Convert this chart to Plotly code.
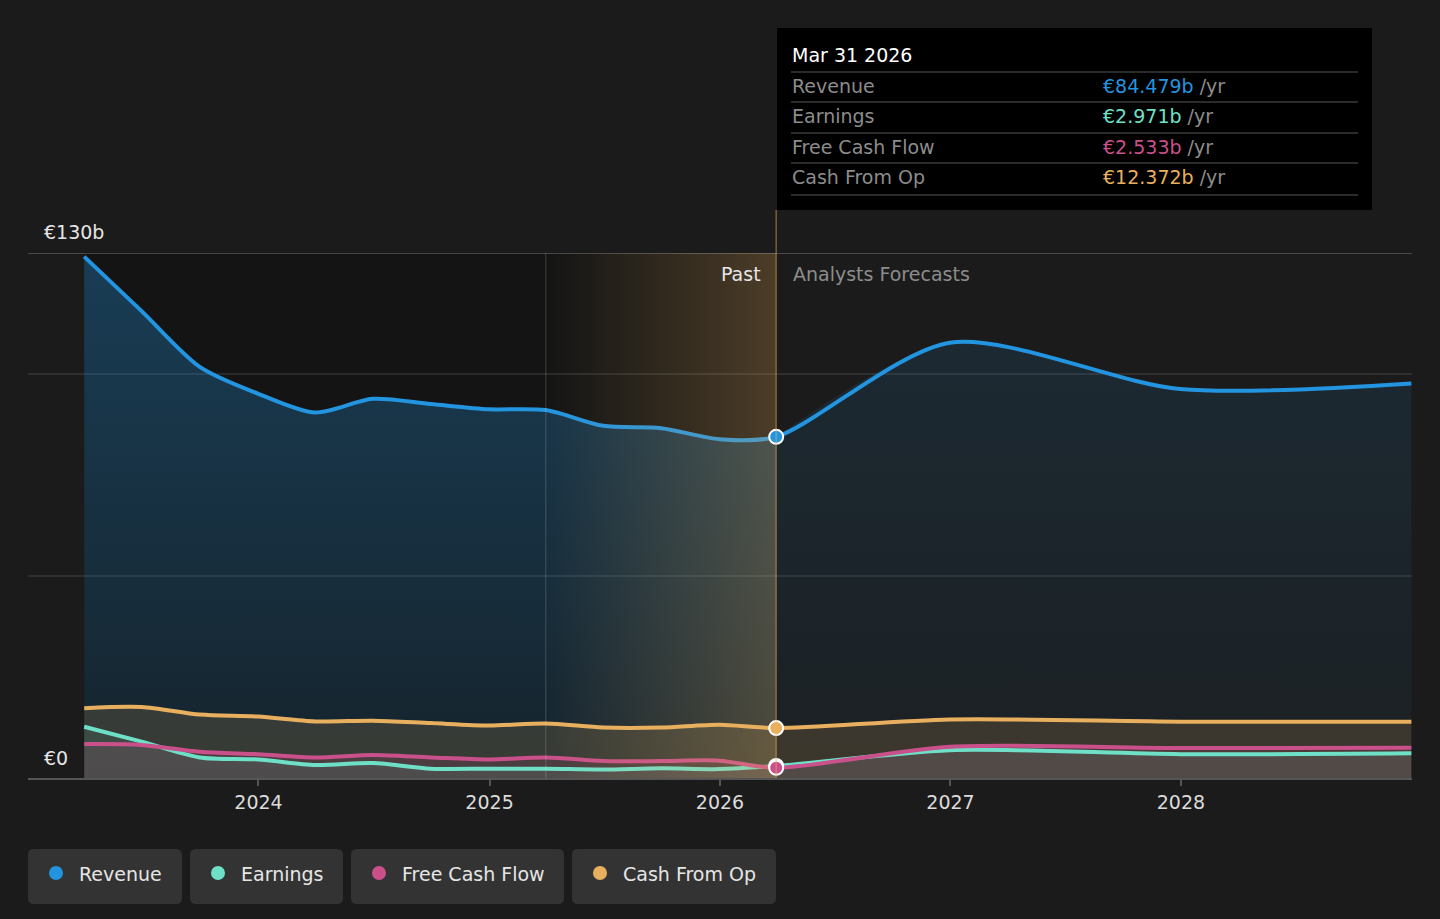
import plotly.graph_objects as go

# quarterly trailing values (billions EUR), then analyst forecasts
past_dates = ["2023-03-31", "2023-06-30", "2023-09-30", "2023-12-31",
              "2024-03-31", "2024-06-30", "2024-09-30", "2024-12-31",
              "2025-03-31", "2025-06-30", "2025-09-30", "2025-12-31",
              "2026-03-31"]
forecast_dates = ["2026-03-31", "2026-12-31", "2027-12-31", "2028-12-31"]

revenue_past = [129.1, 115.6, 101.8, 95.2, 90.5, 93.9, 92.6, 91.3, 91.1, 87.2, 86.6, 83.9, 84.479]
revenue_fc = [84.479, 107.8, 96.3, 97.7]
earnings_past = [12.7, 9.0, 5.1, 4.6, 3.2, 3.7, 2.3, 2.3, 2.3, 2.1, 2.4, 2.2, 2.971]
earnings_fc = [2.971, 6.9, 5.9, 6.1]
fcf_past = [8.4, 8.2, 6.5, 5.9, 5.1, 5.7, 5.1, 4.6, 5.1, 4.2, 4.2, 4.3, 2.533]
fcf_fc = [2.533, 7.75, 7.4, 7.5]
cfo_past = [17.3, 17.6, 15.7, 15.2, 14.0, 14.2, 13.6, 13.0, 13.5, 12.5, 12.5, 13.2, 12.372]
cfo_fc = [12.372, 14.5, 13.95, 13.9]

series_names = ["Revenue", "Earnings", "Free Cash Flow", "Cash From Op"]
series_colors = ["#2394df", "#6fe0c8", "#c9508a", "#e8b05e"]
tooltip_date = "Mar 31 2026"
tooltip_values = ["€84.479b", "€2.971b", "€2.533b", "€12.372b"]
year_ticks = ["2024", "2025", "2026", "2027", "2028"]

BG = "#1b1b1b"
FONT = "DejaVu Sans"
W, H = 1440, 919
L, R, T, B = 28, 1412, 253, 778
SMOOTH = 0.8


def px(x):
    return (x - L) / (R - L)


def py(y):
    return (B - y) / (B - T)


def rgba(hex_color, a):
    h = hex_color.lstrip("#")
    r, g, b = int(h[0:2], 16), int(h[2:4], 16), int(h[4:6], 16)
    return "rgba(%d,%d,%d,%s)" % (r, g, b, a)


fig = go.Figure()

# revenue area: past and forecast filled differently
fig.add_trace(go.Scatter(
    x=past_dates, y=revenue_past, mode="lines", line=dict(width=0, shape="spline", smoothing=SMOOTH),
    fill="tozeroy", fillgradient=dict(type="vertical", colorscale=[[0, rgba("#2394df", 0.12)], [1, rgba("#2394df", 0.32)]]),
    hoverinfo="skip", showlegend=False))
fig.add_trace(go.Scatter(
    x=forecast_dates, y=revenue_fc, mode="lines", line=dict(width=0, shape="spline", smoothing=SMOOTH),
    fill="tozeroy", fillgradient=dict(type="vertical", colorscale=[[0, rgba("#2394df", 0.04)], [1, rgba("#2394df", 0.12)]]),
    hoverinfo="skip", showlegend=False))

all_dates = past_dates + forecast_dates[1:]
lows = [
    (cfo_past + cfo_fc[1:], "#e8b05e", 0.16),
    (fcf_past + fcf_fc[1:], "#c9508a", 0.14),
    (earnings_past + earnings_fc[1:], "#6fe0c8", 0.10),
]
for vals, col, a in lows:
    fig.add_trace(go.Scatter(
        x=all_dates, y=vals, mode="lines", line=dict(width=0, shape="spline", smoothing=SMOOTH),
        fill="tozeroy", fillcolor=rgba(col, a), hoverinfo="skip", showlegend=False))

lines = [
    (revenue_past + revenue_fc[1:], series_colors[0]),
    (cfo_past + cfo_fc[1:], series_colors[3]),
    (earnings_past + earnings_fc[1:], series_colors[1]),
    (fcf_past + fcf_fc[1:], series_colors[2]),
]
for vals, col in lines:
    fig.add_trace(go.Scatter(
        x=all_dates, y=vals, mode="lines", line=dict(color=col, width=4, shape="spline", smoothing=SMOOTH),
        hoverinfo="skip", showlegend=False))

# last-year highlight band
fig.add_trace(go.Scatter(
    x=[past_dates[8], past_dates[-1], past_dates[-1], past_dates[8], past_dates[8]],
    y=[0, 0, 130, 130, 0], mode="lines", line=dict(width=0),
    fill="toself", fillgradient=dict(type="horizontal", colorscale=[[0, rgba("#e8b05e", 0.0)], [1, rgba("#e8b05e", 0.26)]]),
    hoverinfo="skip", showlegend=False))

# markers at the current point
for val, col in [(revenue_past[-1], series_colors[0]), (cfo_past[-1], series_colors[3]),
                 (earnings_past[-1], series_colors[1]), (fcf_past[-1], series_colors[2])]:
    fig.add_trace(go.Scatter(
        x=[past_dates[-1]], y=[val], mode="markers",
        marker=dict(size=14, color=col, line=dict(color="white", width=2)),
        hoverinfo="skip", showlegend=False))

shapes = [
    dict(type="rect", xref="x", yref="paper", x0=past_dates[0], x1=past_dates[-1], y0=0, y1=1,
         fillcolor="#141414", line=dict(width=0), layer="below"),
    dict(type="line", xref="paper", yref="y", x0=0, x1=1, y0=130, y1=130,
         line=dict(color="rgba(255,255,255,0.28)", width=1.5)),
    dict(type="line", xref="x", yref="paper", x0=past_dates[8], x1=past_dates[8], y0=0, y1=1,
         line=dict(color="rgba(255,255,255,0.12)", width=1.5)),
    dict(type="line", xref="x", yref="paper", x0=past_dates[-1], x1=past_dates[-1], y0=0, y1=py(210),
         line=dict(color="rgba(232,176,94,0.45)", width=1.5)),
    # tooltip box
    dict(type="rect", xref="paper", yref="paper", x0=px(777), x1=px(1372), y0=py(210), y1=py(28),
         fillcolor="#000000", line=dict(width=0), layer="above"),
]
for sy in [72, 102, 133, 163, 195]:
    shapes.append(dict(type="line", xref="paper", yref="paper", x0=px(791), x1=px(1358), y0=py(sy), y1=py(sy),
                       line=dict(color="#3a3a3a", width=1.5), layer="above"))

annotations = [
    dict(text="€130b", x=px(42), y=py(232), xanchor="left", yanchor="middle"),
    dict(text="€0", x=px(42), y=py(758), xanchor="left", yanchor="middle"),
    dict(text="Past", x=px(763), y=py(274), xanchor="right", yanchor="middle"),
    dict(text="Analysts Forecasts", x=px(791), y=py(274), xanchor="left", yanchor="middle", font=dict(color="#8c8c8c")),
    dict(text=tooltip_date, x=px(790), y=py(55), xanchor="left", yanchor="middle", font=dict(color="#ffffff")),
]
for i, (name, col, val) in enumerate(zip(series_names, series_colors, tooltip_values)):
    ry = [86, 116, 147, 177][i]
    annotations.append(dict(text=name, x=px(790), y=py(ry), xanchor="left", yanchor="middle",
                            font=dict(color="#8c8c8c")))
    annotations.append(dict(text="<span style='color:%s'>%s</span> /yr" % (col, val), x=px(1101), y=py(ry),
                            xanchor="left", yanchor="middle", font=dict(color="#8c8c8c")))

# legend chips
chips = [(28, 182), (190, 343), (351, 564), (572, 776)]
for (x0, x1), name, col in zip(chips, series_names, series_colors):
    r = 6
    a, b, c, d = px(x0), px(x1), py(849), py(904)
    rx = r / (R - L)
    ry_ = r / (B - T)
    path = ("M %f,%f L %f,%f Q %f,%f %f,%f L %f,%f Q %f,%f %f,%f L %f,%f Q %f,%f %f,%f L %f,%f Q %f,%f %f,%f Z" % (
        a + rx, c, b - rx, c, b, c, b, c - ry_, b, d + ry_, b, d, b - rx, d,
        a + rx, d, a, d, a, d + ry_, a, c - ry_, a, c, a + rx, c))
    shapes.append(dict(type="path", xref="paper", yref="paper", path=path, fillcolor="#333333",
                       line=dict(width=0)))
    shapes.append(dict(type="circle", xref="paper", yref="paper", x0=px(x0 + 21), x1=px(x0 + 35),
                       y0=py(880), y1=py(866), fillcolor=col, line=dict(width=0)))
    annotations.append(dict(text=name, x=px(x0 + 49), y=py(874), xanchor="left", yanchor="middle",
                            font=dict(color="#e6e6e6")))

for an in annotations:
    an.setdefault("xref", "paper")
    an.setdefault("yref", "paper")
    an.setdefault("showarrow", False)
    f = an.setdefault("font", {})
    f.setdefault("color", "#e6e6e6")
    f.setdefault("size", 19)
    f.setdefault("family", FONT)

fig.update_layout(
    width=W, height=H, autosize=False,
    margin=dict(l=L, r=W - R, t=T, b=H - B),
    paper_bgcolor=BG, plot_bgcolor=BG,
    font=dict(family=FONT, size=19, color="#dcdcdc"),
    showlegend=False,
    shapes=shapes, annotations=annotations,
    xaxis=dict(type="date", range=["2023-01-01", "2029-01-01"], showgrid=False, zeroline=False,
               tickvals=[y + "-01-01" for y in year_ticks], ticktext=year_ticks,
               ticks="outside", ticklen=6, tickcolor="#555555", tickwidth=1.5,
               showline=True, linecolor="#555555", linewidth=1.5,
               tickfont=dict(size=19, color="#dcdcdc", family=FONT), fixedrange=True),
    yaxis=dict(range=[0, 130], tickvals=[0, 50, 100], showticklabels=False,
               gridcolor="rgba(255,255,255,0.09)", gridwidth=1.5, zeroline=False, fixedrange=True),
)

fig.write_html("out.html", config={"displayModeBar": False},
               post_script="document.body.style.margin='0';document.body.style.background='%s';" % BG)
